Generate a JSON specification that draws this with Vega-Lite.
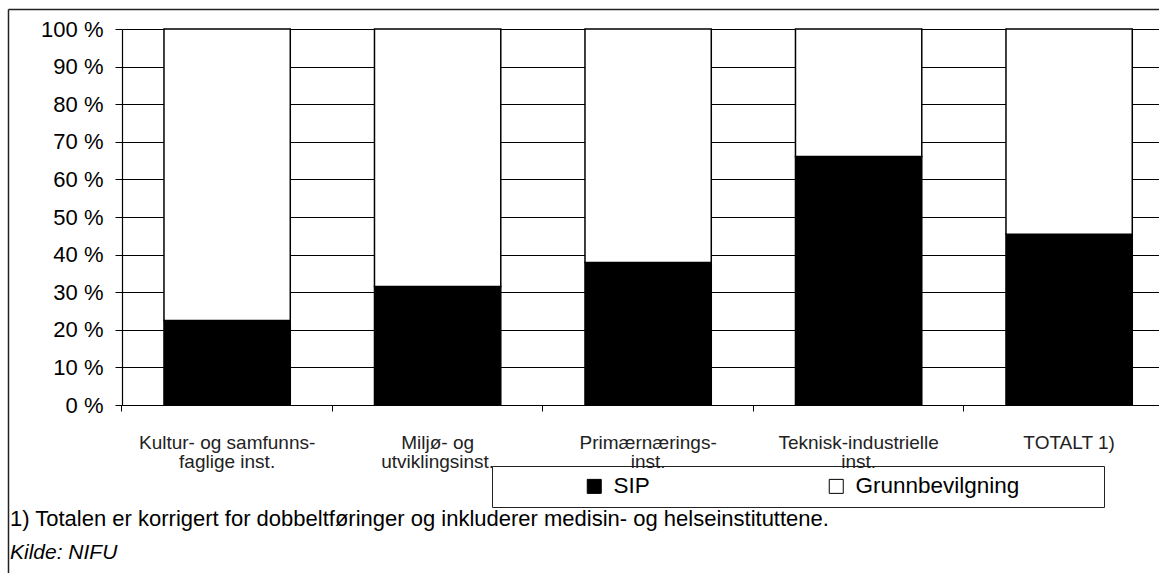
{
  "$schema": "https://vega.github.io/schema/vega-lite/v6.json",
  "width": 1037,
  "height": 376,
  "autosize": {"type": "none"},
  "padding": {"left": 122, "top": 29, "right": 0, "bottom": 168},
  "background": "white",
  "config": {"font": "Liberation Sans", "view": {"stroke": null}},
  "title": {
    "text": "1) Totalen er korrigert for dobbeltføringer og inkluderer medisin- og helseinstituttene.",
    "subtitle": "Kilde: NIFU",
    "orient": "bottom",
    "anchor": "start",
    "frame": "group",
    "dx": -112,
    "offset": -84,
    "fontSize": 22,
    "fontWeight": "normal",
    "color": "black",
    "subtitleFontSize": 21,
    "subtitleFontStyle": "italic",
    "subtitleColor": "black",
    "subtitlePadding": 11
  },
  "data": {
    "values": [
      {"inst": "Kultur- og samfunns-|faglige inst.", "type": "SIP", "share": 22.5},
      {"inst": "Kultur- og samfunns-|faglige inst.", "type": "Grunnbevilgning", "share": 77.5},
      {"inst": "Miljø- og|utviklingsinst.", "type": "SIP", "share": 31.5},
      {"inst": "Miljø- og|utviklingsinst.", "type": "Grunnbevilgning", "share": 68.5},
      {"inst": "Primærnærings-|inst.", "type": "SIP", "share": 37.9},
      {"inst": "Primærnærings-|inst.", "type": "Grunnbevilgning", "share": 62.1},
      {"inst": "Teknisk-industrielle|inst.", "type": "SIP", "share": 66.1},
      {"inst": "Teknisk-industrielle|inst.", "type": "Grunnbevilgning", "share": 33.9},
      {"inst": "TOTALT 1)", "type": "SIP", "share": 45.4},
      {"inst": "TOTALT 1)", "type": "Grunnbevilgning", "share": 54.6}
    ]
  },
  "layer": [
    {
      "mark": {"type": "point", "opacity": 0},
      "encoding": {
        "x": {
          "field": "share",
          "type": "quantitative",
          "scale": {"domain": [0, 100], "range": [-114, 1037], "nice": false, "zero": false},
          "axis": {"orient": "top", "offset": 20, "title": null, "labels": false, "ticks": false, "grid": false, "domain": true, "domainColor": "#222222", "domainWidth": 1.5}
        },
        "y": {
          "field": "share",
          "type": "quantitative",
          "scale": {"domain": [0, 100], "range": [544, -20], "nice": false, "zero": false},
          "axis": {"orient": "left", "offset": 114, "title": null, "labels": false, "ticks": false, "grid": false, "domain": true, "domainColor": "#222222", "domainWidth": 1.5}
        }
      }
    },
    {
      "mark": {"type": "bar", "stroke": "black", "strokeWidth": 1.5},
      "encoding": {
        "x": {
          "field": "inst",
          "type": "nominal",
          "sort": null,
          "scale": {"paddingInner": 0.4, "paddingOuter": 0.1632, "align": 0.611},
          "axis": {
            "orient": "bottom",
            "zindex": 1,
            "title": null,
            "bandPosition": -0.3333,
            "labelExpr": "split(datum.label, '|')",
            "labelAngle": 0,
            "labelOverlap": false,
            "labelFontSize": 19,
            "labelColor": "#222222",
            "labelPadding": 22,
            "labelLineHeight": 19,
            "labelBaseline": "top",
            "labelLimit": 300,
            "tickSize": 6,
            "tickColor": "black",
            "domainColor": "black",
            "domainWidth": 1.2,
            "grid": false
          }
        },
        "y": {
          "field": "share",
          "type": "quantitative",
          "stack": "zero",
          "scale": {"domain": [0, 100], "nice": false},
          "axis": {
            "orient": "left",
            "title": null,
            "values": [0, 10, 20, 30, 40, 50, 60, 70, 80, 90, 100],
            "labelExpr": "datum.value + ' %'",
            "grid": true,
            "gridColor": "black",
            "gridWidth": 1,
            "domainColor": "black",
            "domainWidth": 1.2,
            "tickColor": "black",
            "tickSize": 7,
            "labelFontSize": 22,
            "labelColor": "black",
            "labelPadding": 12
          }
        },
        "color": {
          "field": "type",
          "type": "nominal",
          "scale": {"domain": ["SIP", "Grunnbevilgning"], "range": ["black", "white"]},
          "legend": {
            "orient": "none",
            "legendX": 370,
            "legendY": 437,
            "zindex": 0,
            "direction": "horizontal",
            "title": "\u00a0",
            "titleOrient": "left",
            "titleFontSize": 10,
            "titlePadding": 82,
            "strokeColor": "#222222",
            "fillColor": "white",
            "padding": 9,
            "symbolType": "square",
            "symbolSize": 196,
            "symbolStrokeColor": "black",
            "symbolStrokeWidth": 1,
            "symbolOpacity": 1,
            "labelFontSize": 22.5,
            "labelColor": "black",
            "labelOffset": 8,
            "labelLimit": 400,
            "columnPadding": 175,
            "labelExpr": "datum.label == 'Grunnbevilgning' ? datum.label + '\u00a0\u00a0\u00a0\u00a0\u00a0\u00a0\u00a0\u00a0\u00a0\u00a0\u00a0\u00a0\u200b' : datum.label"
          }
        },
        "order": {"field": "type", "sort": "descending"}
      }
    }
  ],
  "resolve": {"scale": {"x": "independent", "y": "independent"}}
}
